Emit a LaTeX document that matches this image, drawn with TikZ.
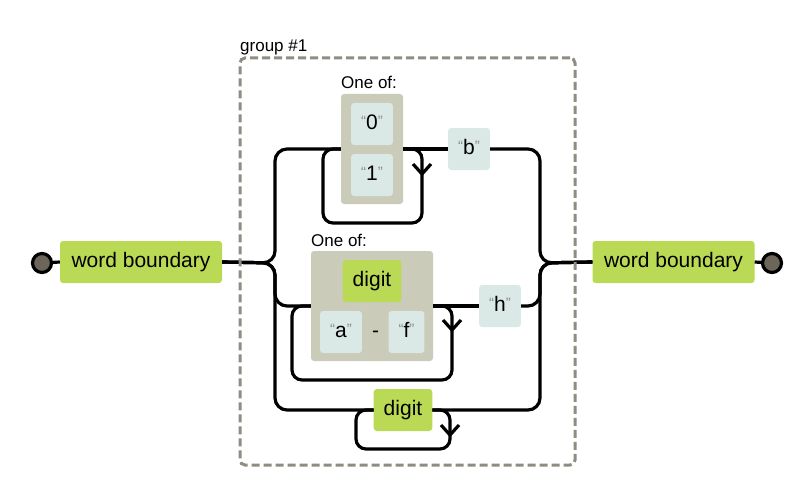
\documentclass[tikz,border=0pt]{standalone}
\usepackage{fontspec}
\setmainfont{Liberation Sans}

\definecolor{litfill}{HTML}{DAE9E5}
\definecolor{setfill}{HTML}{CBCBBA}
\definecolor{escfill}{HTML}{BADA55}
\definecolor{grpline}{HTML}{908C83}
\definecolor{endfill}{HTML}{6B6659}

\tikzset{
  box/.style={rounded corners=3pt, minimum height=42pt, inner xsep=10pt, inner ysep=0pt,
    font=\fontsize{21}{21}\selectfont, text height=15pt, text depth=4pt},
  escbox/.style={box, fill=escfill},
  litbox/.style={box, fill=litfill},
  setbox/.style={rounded corners=3pt, fill=setfill, inner sep=0pt},
  wire/.style={line width=3.2pt, rounded corners=12pt},
  loopwire/.style={line width=3.2pt, rounded corners=10pt},
  endpt/.style={circle, draw, line width=3.2pt, fill=endfill, minimum size=19pt, inner sep=0pt},
  lbl/.style={font=\fontsize{17}{17}\selectfont, inner sep=0pt},
}
\newcommand{\quoted}[1]{\textcolor{grpline}{\raisebox{3pt}{\fontsize{15}{15}\selectfont “}}#1\textcolor{grpline}{\raisebox{3pt}{\fontsize{15}{15}\selectfont ”}}}

\begin{document}
\begin{tikzpicture}[x=1pt, y=-1pt]

		\useasboundingbox (0,0) rectangle (802,492);

		% Inicio y fin
		\node[endpt] (startc) at (42,263) {};
		\node[endpt] (endc) at (772,263) {};
		\node[escbox, minimum width=162pt] (wbl) at (141,262) {word boundary};
		\node[escbox, minimum width=162pt] (wbr) at (673.5,262) {word boundary};

		% Primera rama: One of 0/1, luego b
		\node[setbox, minimum width=62pt, minimum height=110pt] (cs1) at (372,149) {};
		\node[lbl, anchor=base west] (cs1lbl) at (341,89) {One of:};
		\node[litbox] (lit0) at (372,124) {\quoted{0}};
		\node[litbox] (lit1) at (372,175) {\quoted{1}};
		\node[litbox] (litb) at (469,149) {\quoted{b}};

		% Segunda rama: One of digit / a-f, luego h
		\node[setbox, minimum width=122pt, minimum height=110pt] (cs2) at (372,306) {};
		\node[lbl, anchor=base west] (cs2lbl) at (311,246) {One of:};
		\node[escbox] (dig1) at (372,281) {digit};
		\node[litbox] (lita) at (341,332) {\quoted{a}};
		\node[box] (dash) at (375.5,332) {-};
		\node[litbox] (litf) at (406.5,332) {\quoted{f}};
		\node[litbox] (lith) at (500,306) {\quoted{h}};

		% Tercera rama: digit
		\node[escbox] (dig2) at (403,410) {digit};

		% Lineas de entrada y salida
		\draw[wire] (startc) -- (wbl.west);
		\draw[wire] (wbr.east) -- (endc);

		% Rama superior
		\draw[wire] (wbl.east) -- (275,263) -- (275,149) -- (cs1.west);
		\draw[wire] (cs1.east) -- (litb.west);
		\draw[wire] (litb.east) -- (540,149) -- (540,263) -- (wbr.west);
		% bucle de repeticion
		\draw[loopwire] (cs1.east) -- (422,149) -- (422,223) -- (323,223) -- (323,149) -- (cs1.west);
		\draw[line width=3.2pt] (413,164) -- (422,174) -- (431,164);

		% Rama central
		\draw[wire] (wbl.east) -- (275,263) -- (275,306) -- (cs2.west);
		\draw[wire] (cs2.east) -- (lith.west);
		\draw[wire] (lith.east) -- (540,306) -- (540,263) -- (wbr.west);
		% bucle de repeticion
		\draw[loopwire] (cs2.east) -- (452,306) -- (452,380) -- (292,380) -- (292,306) -- (cs2.west);
		\draw[line width=3.2pt] (443,320) -- (452,330) -- (461,320);

		% Rama inferior
		\draw[wire] (wbl.east) -- (275,263) -- (275,410) -- (dig2.west);
		\draw[wire] (dig2.east) -- (540,410) -- (540,263) -- (wbr.west);
		% bucle de repeticion
		\draw[loopwire] (dig2.east) -- (450,410) -- (450,449) -- (356,449) -- (356,410) -- (dig2.west);
		\draw[line width=3.2pt] (441,425) -- (450,435) -- (459,425);

		% Grupo
		\node[draw=grpline, dashed, dash pattern=on 8pt off 4pt, line width=3pt, rounded corners=5pt,
			minimum width=335pt, minimum height=407pt, inner sep=0pt] (grp) at (407.5,261.5) {};
		\node[lbl, anchor=base west] (grplbl) at (240,52) {group \#1};

	\end{tikzpicture}
\end{document}
